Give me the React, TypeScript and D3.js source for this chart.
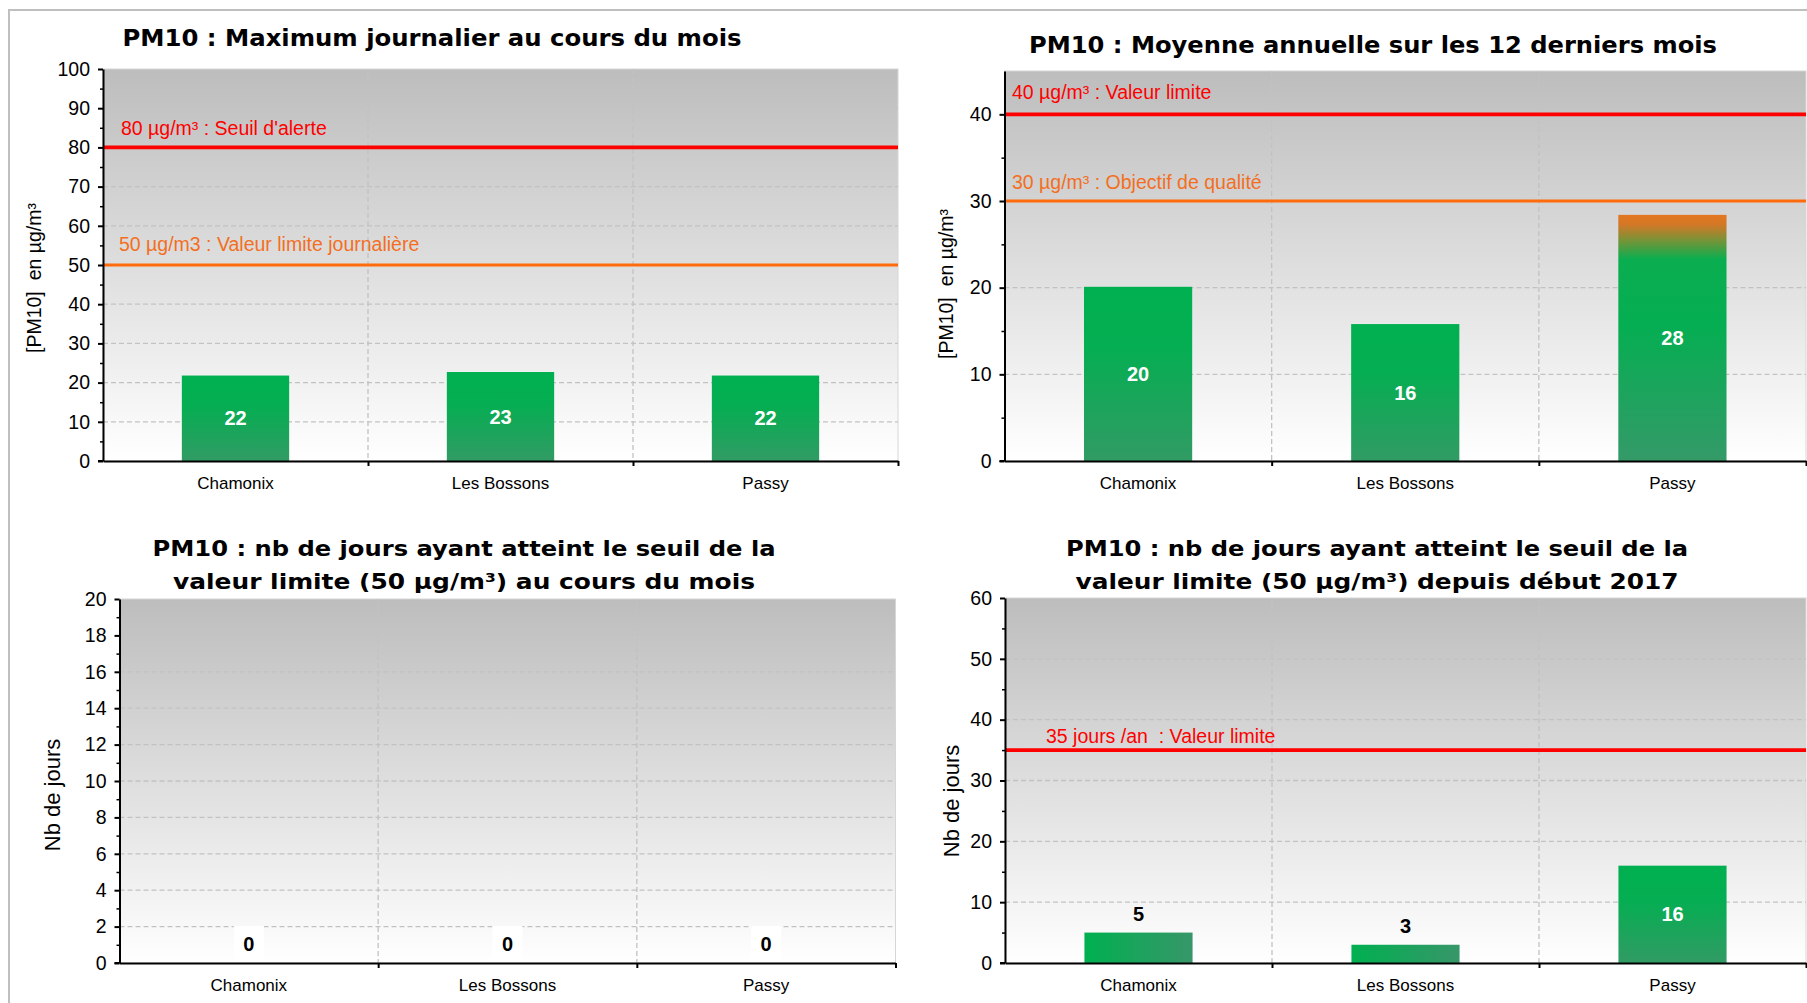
import React, { useEffect, useRef } from 'react';
import * as d3 from 'd3';

const WIDTH = 1807;
const HEIGHT = 1003;

// ---- data ----
const categories = ['Chamonix', 'Les Bossons', 'Passy'];

// PM10 : maximum journalier au cours du mois (µg/m³)
const maxJournalier = [21.8, 22.7, 21.8];
// PM10 : moyenne annuelle sur les 12 derniers mois (µg/m³)
const moyenneAnnuelle = [20.1, 15.8, 28.4];
// nb de jours >= 50 µg/m³ au cours du mois
const joursMois = [0, 0, 0];
// nb de jours >= 50 µg/m³ depuis début 2017
const joursAnnee = [5, 3, 16];

const seuilsMax = [80, 50];
const seuilsMaxLabels = ["80 µg/m³ : Seuil d'alerte", '50 µg/m3 : Valeur limite journalière'];
const seuilsMoyenne = [40, 30];
const seuilsMoyenneLabels = ['40 µg/m³ : Valeur limite', '30 µg/m³ : Objectif de qualité'];
const seuilsJours = [35];
const seuilsJoursLabels = ['35 jours /an  : Valeur limite'];

const ticksMax = [0, 10, 20, 30, 40, 50, 60, 70, 80, 90, 100];
const minorMax = [5, 15, 25, 35, 45, 55, 65, 75, 85, 95];
const ticksMoyenne = [0, 10, 20, 30, 40];
const minorMoyenne = [5, 15, 25, 35];
const ticksJoursMois = [0, 2, 4, 6, 8, 10, 12, 14, 16, 18, 20];
const minorJoursMois = [1, 3, 5, 7, 9, 11, 13, 15, 17, 19];
const ticksJoursAnnee = [0, 10, 20, 30, 40, 50, 60];
const minorJoursAnnee = [5, 15, 25, 35, 45, 55];

// ---- styles ----
const RED = '#ff0000';
const ORANGE = '#ff6a0d';
const ORANGE_TEXT = '#f36f1f';
const LABEL_FONT = '"Liberation Sans", Arial, sans-serif';
const TITLE_FONT = '"DejaVu Sans Condensed", Tahoma, "DejaVu Sans", sans-serif';

type Panel = {
  titles: string[];
  titleLen: number[];
  titleY: number[];
  titleX: number;
  titleSize: number;
  yLabel: string;
  yLabelX: number;
  yLabelY: number;
  yLabelSize: number;
  values: number[];
  domain: [number, number];
  ticks: number[];
  minor: number[];
  thresholds: number[];
  thresholdLabels: string[];
  thresholdColors: string[];
  thresholdText: string[];
  thresholdWidth: number[];
  labelOffset: [number, number][];
  x0: number;
  x1: number;
  yTop: number;
  yBottom: number;
};

const panels: Panel[] = [
  {
    titles: ['PM10 : Maximum journalier au cours du mois'],
    titleLen: [619],
    titleY: [46],
    titleX: 432,
    titleSize: 23,
    yLabel: '[PM10]  en µg/m³',
    yLabelX: 34,
    yLabelY: 278,
    yLabelSize: 19.5,
    values: maxJournalier,
    domain: [0, 100],
    ticks: ticksMax,
    minor: minorMax,
    thresholds: seuilsMax,
    thresholdLabels: seuilsMaxLabels,
    thresholdColors: [RED, ORANGE],
    thresholdText: [RED, ORANGE_TEXT],
    thresholdWidth: [3.8, 3],
    labelOffset: [[18, -12], [16, -14]],
    x0: 103,
    x1: 898,
    yTop: 69,
    yBottom: 461,
  },
  {
    titles: ['PM10 : Moyenne annuelle sur les 12 derniers mois'],
    titleLen: [688],
    titleY: [53],
    titleX: 1373,
    titleSize: 23,
    yLabel: '[PM10]  en µg/m³',
    yLabelX: 946,
    yLabelY: 284,
    yLabelSize: 19.5,
    values: moyenneAnnuelle,
    domain: [0, 45],
    ticks: ticksMoyenne,
    minor: minorMoyenne,
    thresholds: seuilsMoyenne,
    thresholdLabels: seuilsMoyenneLabels,
    thresholdColors: [RED, ORANGE],
    thresholdText: [RED, ORANGE_TEXT],
    thresholdWidth: [3.8, 3],
    labelOffset: [[7.5, -15], [7.5, -12]],
    x0: 1004.5,
    x1: 1806,
    yTop: 71,
    yBottom: 461,
  },
  {
    titles: [
      'PM10 : nb de jours ayant atteint le seuil de la',
      'valeur limite (50 µg/m³) au cours du mois',
    ],
    titleLen: [623, 582],
    titleY: [556, 589],
    titleX: 464,
    titleSize: 21.5,
    yLabel: 'Nb de jours',
    yLabelX: 52,
    yLabelY: 795,
    yLabelSize: 22,
    values: joursMois,
    domain: [0, 20],
    ticks: ticksJoursMois,
    minor: minorJoursMois,
    thresholds: [],
    thresholdLabels: [],
    thresholdColors: [],
    thresholdText: [],
    thresholdWidth: [],
    labelOffset: [],
    x0: 119.5,
    x1: 895.5,
    yTop: 599,
    yBottom: 963,
  },
  {
    titles: [
      'PM10 : nb de jours ayant atteint le seuil de la',
      'valeur limite (50 µg/m³) depuis début 2017',
    ],
    titleLen: [622, 603],
    titleY: [556, 589],
    titleX: 1377,
    titleSize: 21.5,
    yLabel: 'Nb de jours',
    yLabelX: 951,
    yLabelY: 801,
    yLabelSize: 22,
    values: joursAnnee,
    domain: [0, 60],
    ticks: ticksJoursAnnee,
    minor: minorJoursAnnee,
    thresholds: seuilsJours,
    thresholdLabels: seuilsJoursLabels,
    thresholdColors: [RED],
    thresholdText: [RED],
    thresholdWidth: [3.8],
    labelOffset: [[41, -7]],
    x0: 1005,
    x1: 1806,
    yTop: 598,
    yBottom: 963,
  },
];

type Sel = d3.Selection<SVGSVGElement, unknown, null, undefined>;
type DefsSel = d3.Selection<SVGDefsElement, unknown, null, undefined>;

function addGradient(
  defs: DefsSel,
  id: string,
  dir: [number, number, number, number],
  stops: [number, string][],
) {
  const lg = defs
    .append('linearGradient')
    .attr('id', id)
    .attr('x1', dir[0])
    .attr('y1', dir[1])
    .attr('x2', dir[2])
    .attr('y2', dir[3]);
  stops.forEach(([o, c]) => lg.append('stop').attr('offset', o).attr('stop-color', c));
}

function drawPanel(svg: Sel, p: Panel) {
  const g = svg.append('g');
  const x = d3.scaleBand<string>().domain(categories).range([p.x0, p.x1]).padding(0);
  const xb = d3.scaleLinear().domain([0, categories.length]).range([p.x0, p.x1]);
  const y = d3.scaleLinear().domain(p.domain).range([p.yBottom, p.yTop]);
  const top = y(p.domain[1]);
  const base = y(0);

  // plot area
  g.append('rect')
    .attr('x', p.x0)
    .attr('y', top)
    .attr('width', p.x1 - p.x0)
    .attr('height', base - top)
    .attr('fill', 'url(#plotBg)')
    .attr('stroke', '#d6d6d6')
    .attr('stroke-width', 1);

  // grid
  g.append('g')
    .selectAll('line')
    .data(p.ticks.filter(t => t > 0 && t < p.domain[1]))
    .join('line')
    .attr('x1', p.x0)
    .attr('x2', p.x1)
    .attr('y1', d => y(d))
    .attr('y2', d => y(d))
    .attr('stroke', '#c2c2c2')
    .attr('stroke-width', 1.3)
    .attr('stroke-dasharray', '5,3');

  g.append('g')
    .selectAll('line')
    .data([1, 2])
    .join('line')
    .attr('x1', d => xb(d))
    .attr('x2', d => xb(d))
    .attr('y1', top)
    .attr('y2', base)
    .attr('stroke', '#c2c2c2')
    .attr('stroke-width', 1.3)
    .attr('stroke-dasharray', '5,3');

  // threshold lines
  p.thresholds.forEach((t, i) => {
    g.append('line')
      .attr('x1', p.x0)
      .attr('x2', p.x1)
      .attr('y1', y(t))
      .attr('y2', y(t))
      .attr('stroke', p.thresholdColors[i])
      .attr('stroke-width', p.thresholdWidth[i]);
    g.append('text')
      .attr('x', p.x0 + p.labelOffset[i][0])
      .attr('y', y(t) + p.labelOffset[i][1])
      .attr('fill', p.thresholdText[i])
      .attr('font-family', LABEL_FONT)
      .attr('font-size', 19.5)
      .style('white-space', 'pre')
      .text(p.thresholdLabels[i]);
  });

  // bars
  const lowest = p.thresholds.length ? Math.min(...p.thresholds) : Infinity;
  const bw = x.bandwidth() * 0.405;
  const bars = g.append('g');
  p.values.forEach((v, i) => {
    const cx = (x(categories[i]) ?? 0) + x.bandwidth() / 2;
    const h = base - y(v);
    let fill = 'url(#barV)';
    if (v >= lowest * 0.9) fill = 'url(#barAlert)';
    else if (h < bw * 0.5) fill = 'url(#barH)';
    if (h > 0) {
      bars
        .append('rect')
        .attr('x', cx - bw / 2)
        .attr('y', y(v))
        .attr('width', bw)
        .attr('height', h)
        .attr('fill', fill);
    }
    const inside = h >= 40;
    const ly = inside ? (y(v) + base) / 2 : y(v) - 19;
    if (v === 0) {
      bars
        .append('rect')
        .attr('x', cx - 15)
        .attr('y', ly - 18)
        .attr('width', 30)
        .attr('height', 36)
        .attr('fill', '#ffffff');
    }
    bars
      .append('text')
      .attr('x', cx)
      .attr('y', ly)
      .attr('text-anchor', 'middle')
      .attr('dominant-baseline', 'central')
      .attr('font-family', LABEL_FONT)
      .attr('font-weight', 'bold')
      .attr('font-size', 20)
      .attr('fill', inside ? '#ffffff' : '#000000')
      .text(d3.format('.0f')(v));
  });

  // y axis
  const yAxis = g
    .append('g')
    .attr('transform', `translate(${p.x0},0)`)
    .call(
      d3
        .axisLeft(y)
        .tickValues(p.ticks)
        .tickSize(5)
        .tickSizeOuter(0)
        .tickPadding(8)
        .tickFormat(d3.format('d')),
    );
  yAxis.select('.domain').attr('stroke', '#000').attr('stroke-width', 2);
  yAxis.selectAll('.tick line').attr('stroke', '#000').attr('stroke-width', 2);
  yAxis
    .selectAll('text')
    .attr('font-family', LABEL_FONT)
    .attr('font-size', 19.5)
    .attr('fill', '#000');

  g.append('g')
    .attr('transform', `translate(${p.x0},0)`)
    .call(d3.axisLeft(y).tickValues(p.minor).tickSize(3).tickSizeOuter(0).tickFormat(() => ''))
    .call(a => a.select('.domain').remove())
    .selectAll('.tick line')
    .attr('stroke', '#000')
    .attr('stroke-width', 1.5);

  // x axis
  const xAxis = g
    .append('g')
    .attr('transform', `translate(0,${base})`)
    .call(d3.axisBottom(xb).tickValues([1, 2, 3]).tickSize(5).tickSizeOuter(0).tickFormat(() => ''));
  xAxis.select('.domain').attr('stroke', '#000').attr('stroke-width', 2);
  xAxis.selectAll('.tick line').attr('stroke', '#000').attr('stroke-width', 2);
  g.append('line')
    .attr('x1', p.x0 - 5)
    .attr('x2', p.x0)
    .attr('y1', base)
    .attr('y2', base)
    .attr('stroke', '#000')
    .attr('stroke-width', 2);

  g.append('g')
    .selectAll('text')
    .data(categories)
    .join('text')
    .attr('x', d => (x(d) ?? 0) + x.bandwidth() / 2)
    .attr('y', base + 28)
    .attr('text-anchor', 'middle')
    .attr('font-family', LABEL_FONT)
    .attr('font-size', 17)
    .attr('fill', '#000')
    .text(d => d);

  // y label
  g.append('text')
    .attr('transform', `translate(${p.yLabelX},${p.yLabelY}) rotate(-90)`)
    .attr('text-anchor', 'middle')
    .attr('dominant-baseline', 'central')
    .attr('font-family', LABEL_FONT)
    .attr('font-size', p.yLabelSize)
    .attr('fill', '#000')
    .style('white-space', 'pre')
    .text(p.yLabel);

  // title
  p.titles.forEach((t, i) => {
    g.append('text')
      .attr('x', p.titleX)
      .attr('y', p.titleY[i])
      .attr('text-anchor', 'middle')
      .attr('font-family', TITLE_FONT)
      .attr('font-weight', 'bold')
      .attr('font-size', p.titleSize)
      .attr('textLength', p.titleLen[i])
      .attr('lengthAdjust', 'spacingAndGlyphs')
      .attr('fill', '#000')
      .text(t);
  });
}

const App: React.FC = () => {
  const ref = useRef<SVGSVGElement>(null);

  useEffect(() => {
    if (!ref.current) return;
    const svg = d3.select(ref.current);
    svg.selectAll('*').remove();

    const defs = svg.append('defs');
    addGradient(defs, 'plotBg', [0, 0, 0, 1], [
      [0, '#bdbdbd'],
      [0.5, '#dedede'],
      [1, '#ffffff'],
    ]);
    addGradient(defs, 'barV', [0, 0, 0, 1], [
      [0, '#00b050'],
      [0.35, '#05ae52'],
      [1, '#319b64'],
    ]);
    addGradient(defs, 'barH', [0, 0, 1, 0], [
      [0, '#00b050'],
      [1, '#379669'],
    ]);
    addGradient(defs, 'barAlert', [0, 0, 0, 1], [
      [0, '#e5761f'],
      [0.04, '#d27827'],
      [0.1, '#7c9236'],
      [0.18, '#0aae50'],
      [0.45, '#05ae52'],
      [1, '#349a68'],
    ]);

    svg
      .append('rect')
      .attr('x', 9)
      .attr('y', 10)
      .attr('width', WIDTH + 20)
      .attr('height', HEIGHT + 20)
      .attr('fill', '#ffffff')
      .attr('stroke', '#bfbfbf')
      .attr('stroke-width', 2);

    panels.forEach(p => drawPanel(svg, p));
  }, []);

  return (
    <svg
      ref={ref}
      width={WIDTH}
      height={HEIGHT}
      style={{ position: 'absolute', left: 0, top: 0, background: '#ffffff' }}
    />
  );
};

export default App;
